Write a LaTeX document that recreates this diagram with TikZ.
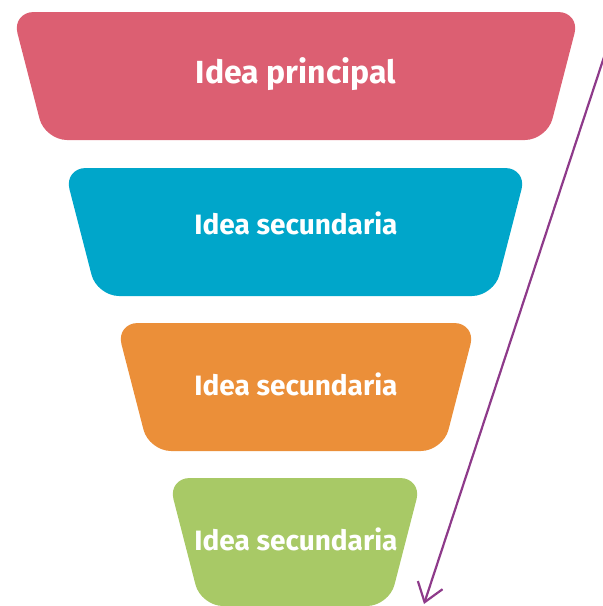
\documentclass[tikz,border=0pt]{standalone}
\usepackage{fontspec}
\setsansfont{Fira Sans}
\usetikzlibrary{arrows.meta,positioning}
\definecolor{funnelred}{HTML}{DC5F72}
\definecolor{funnelblue}{HTML}{00A6CA}
\definecolor{funnelorange}{HTML}{EB8F39}
\definecolor{funnelgreen}{HTML}{A8C966}
\definecolor{arrowpurple}{HTML}{8E3A8A}

\begin{document}
\begin{tikzpicture}[
    x=1pt, y=-1pt,
    level/.style={fill=#1, rounded corners=22pt},
    lbl/.style={text=white, font=\sffamily\bfseries\fontsize{28}{32}\selectfont},
    trend/.style={-{Straight Barb[length=18pt,width=26pt]}, line width=2.2pt, arrowpurple}
  ]
    \useasboundingbox (0,0) rectangle (603,606);

    % Funnel levels
    \path[level=funnelred]    (12,12)  -- (580,12)  -- (547,140) -- (45,140)  -- cycle;
    \path[level=funnelblue]   (64,168) -- (527,168) -- (494,296) -- (97,296)  -- cycle;
    \path[level=funnelorange] (116,323) -- (476,323) -- (443,451) -- (149,451) -- cycle;
    \path[level=funnelgreen]  (168,478) -- (422,478) -- (389,606) -- (201,606) -- cycle;

    % Labels
    \node[lbl, font=\sffamily\bfseries\fontsize{32}{36}\selectfont] (main) at (296,74) {Idea principal};
    \node[lbl] (sec1) at (296,223) {Idea secundaria};
    \node[lbl] (sec2) at (296,384) {Idea secundaria};
    \node[lbl] (sec3) at (296,539) {Idea secundaria};

    % Arrow
    \coordinate (tail) at (605,54);
    \coordinate (tip) at (424,604);
    \draw[trend] (tail) -- (tip);
  \end{tikzpicture}
\end{document}
